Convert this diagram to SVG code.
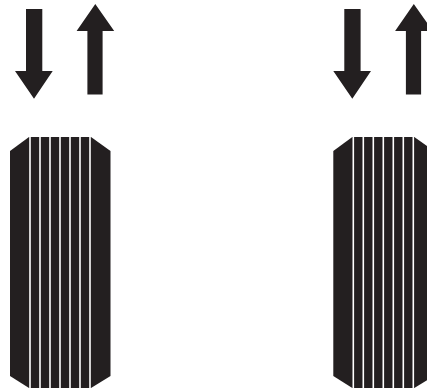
<svg xmlns="http://www.w3.org/2000/svg" width="427" height="388" viewBox="0 0 427 388">
<defs>
<style>
.ink{fill:#231f20}
.groove{stroke:#ffffff;stroke-width:1.6}
</style>
<g id="tire">
<polygon class="ink" points="29,137 91,137 110.5,151 110.5,376 91,388 29,388 10,376 10,151"/>
<g class="groove">
<line x1="30" y1="130" x2="30" y2="390"/>
<line x1="40" y1="130" x2="40" y2="390"/>
<line x1="50" y1="130" x2="50" y2="390"/>
<line x1="60" y1="130" x2="60" y2="390"/>
<line x1="70" y1="130" x2="70" y2="390"/>
<line x1="80" y1="130" x2="80" y2="390"/>
<line x1="90" y1="130" x2="90" y2="390"/>
</g>
</g>
<polygon id="down" class="ink" points="26,9 42.3,9 42.3,71 52.7,71 34,98.7 15,71 26,71"/>
<polygon id="up" class="ink" points="87.4,94.4 102.6,94.4 102.6,31 114.2,31 95.3,4 76.6,31 87.4,31"/>
</defs>
<rect width="427" height="388" fill="#ffffff"/>
<g id="left-pair">
<g id="left-arrow-down"><use href="#down"/></g>
<g id="left-arrow-up"><use href="#up"/></g>
<g id="left-tire"><use href="#tire"/></g>
</g>
<g id="right-pair">
<g id="right-arrow-down"><use href="#down" x="318.3"/></g>
<g id="right-arrow-up"><use href="#up" x="318.5"/></g>
<g id="right-tire"><use href="#tire" x="323.3"/></g>
</g>
</svg>
